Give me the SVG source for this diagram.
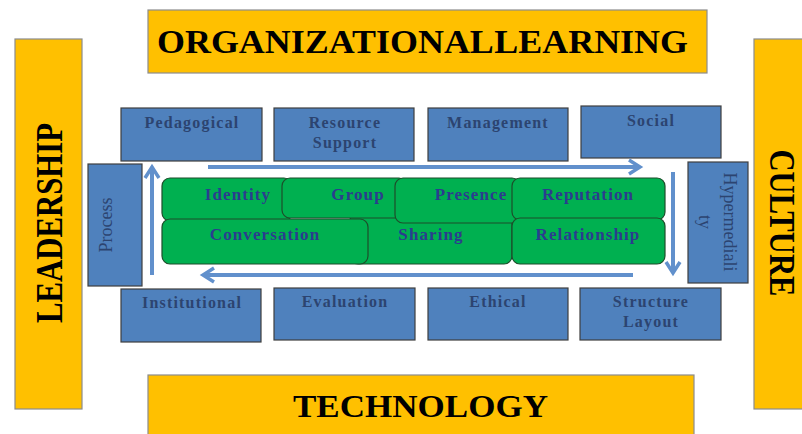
<svg xmlns="http://www.w3.org/2000/svg" width="802" height="434" viewBox="0 0 802 434">
<defs>
<style>
.y{fill:#FFC000;stroke:#8C8C8C;stroke-width:1.2}
.b{fill:#4F81BD;stroke:#3F3F3F;stroke-width:1.2}
.g{fill:#00B050;stroke:#1D4D2A;stroke-width:1.2}
.big{font-family:"Liberation Serif",serif;font-weight:bold;fill:#000}
.bl{font-family:"Liberation Serif",serif;font-weight:bold;font-size:16px;fill:#2C4470;letter-spacing:1.2px;text-anchor:middle}
.vl{font-family:"Liberation Serif",serif;font-size:18px;fill:#2C4470;text-anchor:middle}
.gl{font-family:"Liberation Serif",serif;font-weight:bold;font-size:17px;fill:#2B3C8E;letter-spacing:1.1px;text-anchor:middle}
.ar{stroke:#6190CC;stroke-width:4;fill:none}
</style>
<marker id="ah" markerUnits="userSpaceOnUse" markerWidth="20" markerHeight="20" viewBox="-2 -10 16 20" refX="12" refY="0" orient="auto">
<path d="M1,-7 L12,0 L1,7" fill="none" stroke="#6190CC" stroke-width="3.5"/>
</marker>
</defs>

<g id="organizational-learning">
<rect class="y" x="148" y="10" width="559" height="63"/>
<text class="big" x="157" y="53" font-size="33" word-spacing="-6" textLength="531" lengthAdjust="spacingAndGlyphs">ORGANIZATIONAL LEARNING</text>
</g>
<g id="leadership">
<rect class="y" x="15" y="39" width="67" height="370"/>
<text class="big" transform="translate(62,223) rotate(-90)" x="0" y="0" font-size="38" text-anchor="middle" textLength="200" lengthAdjust="spacingAndGlyphs">LEADERSHIP</text>
</g>
<g id="culture">
<rect class="y" x="754" y="39" width="52" height="370"/>
<text class="big" transform="translate(770,223) rotate(90)" x="0" y="0" font-size="36" text-anchor="middle" textLength="147" lengthAdjust="spacingAndGlyphs">CULTURE</text>
</g>
<g id="technology">
<rect class="y" x="148" y="375" width="546" height="64"/>
<text class="big" x="293" y="417" font-size="31" textLength="255" lengthAdjust="spacingAndGlyphs">TECHNOLOGY</text>
</g>

<g id="pedagogical"><rect class="b" x="121" y="108" width="141" height="53"/><text class="bl" x="192" y="128">Pedagogical</text></g>
<g id="resource-support"><rect class="b" x="274" y="108" width="140" height="53"/><text class="bl" x="345" y="128">Resource</text><text class="bl" x="345" y="148">Support</text></g>
<g id="management"><rect class="b" x="428" y="108" width="140" height="53"/><text class="bl" x="498" y="128">Management</text></g>
<g id="social"><rect class="b" x="581" y="106" width="140" height="52"/><text class="bl" x="651" y="126">Social</text></g>

<g id="institutional"><rect class="b" x="121" y="289" width="140" height="53"/><text class="bl" x="192" y="308">Institutional</text></g>
<g id="evaluation"><rect class="b" x="274" y="288" width="141" height="52"/><text class="bl" x="345" y="307">Evaluation</text></g>
<g id="ethical"><rect class="b" x="428" y="288" width="140" height="52"/><text class="bl" x="498" y="307">Ethical</text></g>
<g id="structure-layout"><rect class="b" x="580" y="288" width="141" height="52"/><text class="bl" x="651" y="307">Structure</text><text class="bl" x="651" y="327">Layout</text></g>

<g id="process"><rect class="b" x="88" y="164" width="54" height="122"/><text class="vl" transform="translate(112,225) rotate(-90)" x="0" y="0">Process</text></g>
<g id="hypermediality"><rect class="b" x="688" y="162" width="60" height="121"/><text class="vl" transform="translate(718,222) rotate(90)"><tspan x="0" y="-6">Hypermediali</tspan><tspan x="0" y="19">ty</tspan></text></g>

<g id="sharing"><rect class="g" x="350" y="212" width="162" height="52" rx="8"/><text class="gl" x="431" y="240">Sharing</text></g>
<g id="identity"><rect class="g" x="162" y="178" width="130" height="43" rx="8"/><text class="gl" x="238" y="200">Identity</text></g>
<g id="group"><rect class="g" x="282" y="178" width="125" height="40" rx="8"/><text class="gl" x="358" y="200">Group</text></g>
<g id="conversation"><rect class="g" x="162" y="219" width="206" height="45" rx="8"/><text class="gl" x="265" y="240">Conversation</text></g>
<g id="presence"><rect class="g" x="395" y="178" width="125" height="45" rx="8"/><text class="gl" x="471" y="200">Presence</text></g>
<g id="reputation"><rect class="g" x="512" y="178" width="153" height="42" rx="8"/><text class="gl" x="588" y="200">Reputation</text></g>
<g id="relationship"><rect class="g" x="512" y="218" width="153" height="46" rx="8"/><text class="gl" x="588" y="240">Relationship</text></g>

<g id="connectors">
<line class="ar" x1="208" y1="167" x2="640" y2="167" marker-end="url(#ah)"/>
<line class="ar" x1="673" y1="172" x2="673" y2="273" marker-end="url(#ah)"/>
<line class="ar" x1="633" y1="275" x2="203" y2="275" marker-end="url(#ah)"/>
<line class="ar" x1="152" y1="275" x2="152" y2="167" marker-end="url(#ah)"/>
</g>
</svg>
